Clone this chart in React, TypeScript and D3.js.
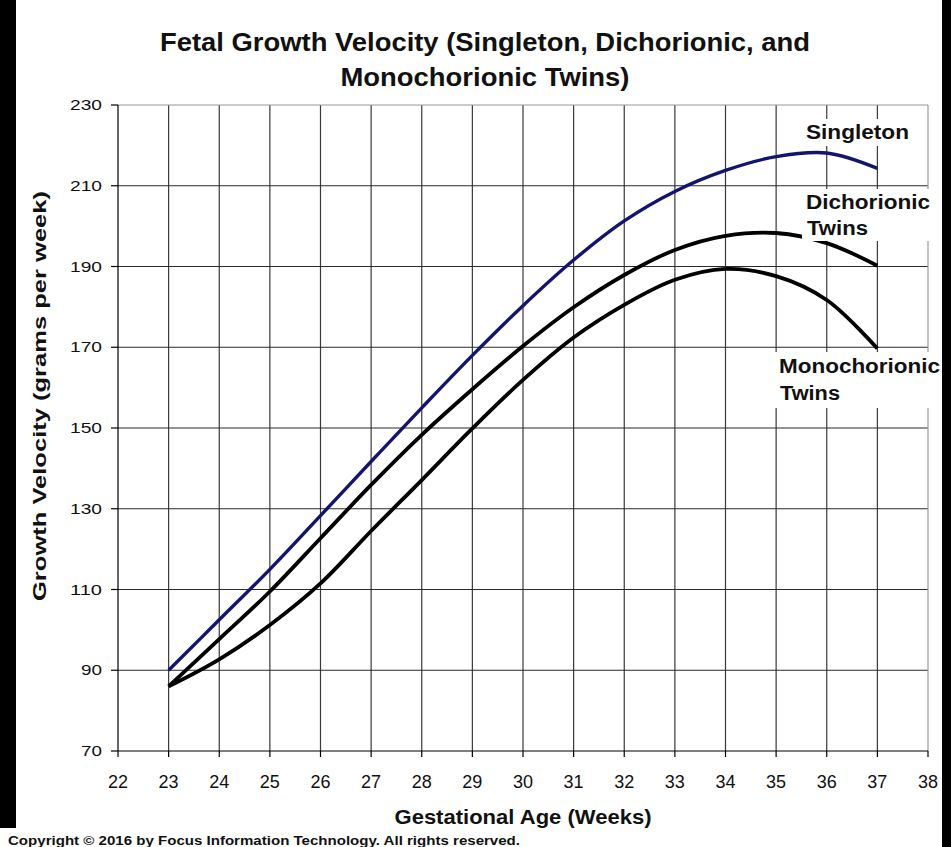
import React from 'react';
import * as d3 from 'd3';

// gestational weeks and growth velocity (g/week)
const weeks = [23, 24, 25, 26, 27, 28, 29, 30, 31, 32, 33, 34, 35, 36, 37];
const singleton = [90, 102.5, 115, 128.3, 141.7, 155, 168, 180.3, 191.6, 201.3, 208.6, 213.8, 217.2, 218.1, 214.3];
const dichorionic = [86, 97.7, 109.5, 122.7, 135.9, 148.3, 159.6, 170.3, 179.9, 187.9, 194.1, 197.6, 198.3, 195.8, 190.2];
const monochorionic = [86, 92.7, 101.2, 111.5, 124.5, 137.1, 149.9, 161.9, 172.4, 180.5, 186.7, 189.4, 187.6, 181.7, 169.7];

const xTickLabels = [22, 23, 24, 25, 26, 27, 28, 29, 30, 31, 32, 33, 34, 35, 36, 37, 38];
const yTickLabels = [70, 90, 110, 130, 150, 170, 190, 210, 230];

const W = 951;
const H = 847;
const margin = { top: 105, right: 23, bottom: 96, left: 118 };
const font = "Arial, 'Liberation Sans', sans-serif";

const App: React.FC = () => {
  const x = d3.scaleLinear().domain([22, 38]).range([margin.left, W - margin.right]);
  const y = d3.scaleLinear().domain([70, 230]).range([H - margin.bottom, margin.top]);

  const line = d3.line<number>()
    .x((_, i) => x(weeks[i]))
    .y(d => y(d))
    .curve(d3.curveCatmullRom.alpha(0.5));

  const [x0, x1] = x.range();
  const [y0, y1] = y.range();

  return (
    <div style={{ position: 'absolute', left: 0, top: 0 }}>
      <svg width={W} height={H} style={{ display: 'block', background: '#fff' }} fontFamily={font}>
        {/* black borders of the scanned picture */}
        <rect x={0} y={0} width={16} height={828} fill="#000" />
        <rect x={942} y={0} width={9} height={H} fill="#000" />

        {/* title */}
        <text x={485} y={51} textAnchor="middle" fontSize={26} fontWeight="bold" fill="#111"
          textLength={650} lengthAdjust="spacingAndGlyphs">
          Fetal Growth Velocity (Singleton, Dichorionic, and
        </text>
        <text x={485} y={86} textAnchor="middle" fontSize={26} fontWeight="bold" fill="#111"
          textLength={289} lengthAdjust="spacingAndGlyphs">
          Monochorionic Twins)
        </text>

        {/* grid */}
        {xTickLabels.slice(1, -1).map(t => (
          <line key={'gx' + t} x1={x(t)} x2={x(t)} y1={y1} y2={y0} stroke="#3a3a3a" strokeWidth={1.2} />
        ))}
        {yTickLabels.slice(1, -1).map(t => (
          <line key={'gy' + t} x1={x0} x2={x1} y1={y(t)} y2={y(t)} stroke="#2a2a2a" strokeWidth={1.2} />
        ))}
        <line x1={x0} x2={x1} y1={y1} y2={y1} stroke="#9a9a9a" strokeWidth={1.2} />
        <line x1={x1} x2={x1} y1={y1} y2={y0} stroke="#9a9a9a" strokeWidth={1.2} />

        {/* axes */}
        <line x1={x0} x2={x0} y1={y1} y2={y0} stroke="#000" strokeWidth={1.2} />
        <line x1={x0} x2={x1} y1={y0} y2={y0} stroke="#000" strokeWidth={1.2} />
        {yTickLabels.map(t => (
          <g key={'ty' + t}>
            <line x1={x0 - 7} x2={x0} y1={y(t)} y2={y(t)} stroke="#000" strokeWidth={1.2} />
            <text x={102} y={y(t) + 5} textAnchor="end" fontSize={14} fill="#111"
              textLength={t >= 100 ? 32 : 21} lengthAdjust="spacingAndGlyphs">{t}</text>
          </g>
        ))}
        {xTickLabels.map(t => (
          <g key={'tx' + t}>
            <line x1={x(t)} x2={x(t)} y1={y0} y2={y0 + 6} stroke="#000" strokeWidth={1.2} />
            <text x={x(t)} y={788} textAnchor="middle" fontSize={18} fill="#111">{t}</text>
          </g>
        ))}

        {/* axis titles */}
        <text x={523} y={824} textAnchor="middle" fontSize={21} fontWeight="bold" fill="#111"
          textLength={257} lengthAdjust="spacingAndGlyphs">Gestational Age (Weeks)</text>
        <text transform="translate(46,396) rotate(-90)" textAnchor="middle" fontSize={18} fontWeight="bold" fill="#111"
          textLength={410} lengthAdjust="spacingAndGlyphs">Growth Velocity (grams per week)</text>

        {/* series */}
        <path d={line(singleton) || ''} fill="none" stroke="#14146e" strokeWidth={3.4} />
        <path d={line(dichorionic) || ''} fill="none" stroke="#000" strokeWidth={3.8} />
        <path d={line(monochorionic) || ''} fill="none" stroke="#000" strokeWidth={3.8} />

        {/* series labels on white boxes */}
        <rect x={802} y={119} width={112} height={27} fill="#fff" />
        <text x={806} y={139} fontSize={20} fontWeight="bold" fill="#111"
          textLength={103} lengthAdjust="spacingAndGlyphs">Singleton</text>

        <rect x={802} y={189} width={133} height={52} fill="#fff" />
        <text x={806} y={209} fontSize={20} fontWeight="bold" fill="#111"
          textLength={124} lengthAdjust="spacingAndGlyphs">Dichorionic</text>
        <text x={807} y={235} fontSize={20} fontWeight="bold" fill="#111"
          textLength={61} lengthAdjust="spacingAndGlyphs">Twins</text>

        <rect x={775} y={352} width={167} height={56} fill="#fff" />
        <text x={779} y={373} fontSize={20} fontWeight="bold" fill="#111"
          textLength={161} lengthAdjust="spacingAndGlyphs">Monochorionic</text>
        <text x={780} y={400} fontSize={20} fontWeight="bold" fill="#111"
          textLength={60} lengthAdjust="spacingAndGlyphs">Twins</text>

        {/* footer */}
        <text x={8} y={845} fontSize={13} fontWeight="bold" fill="#111"
          textLength={512} lengthAdjust="spacingAndGlyphs">
          Copyright © 2016 by Focus Information Technology. All rights reserved.
        </text>
      </svg>
    </div>
  );
};

export default App;
